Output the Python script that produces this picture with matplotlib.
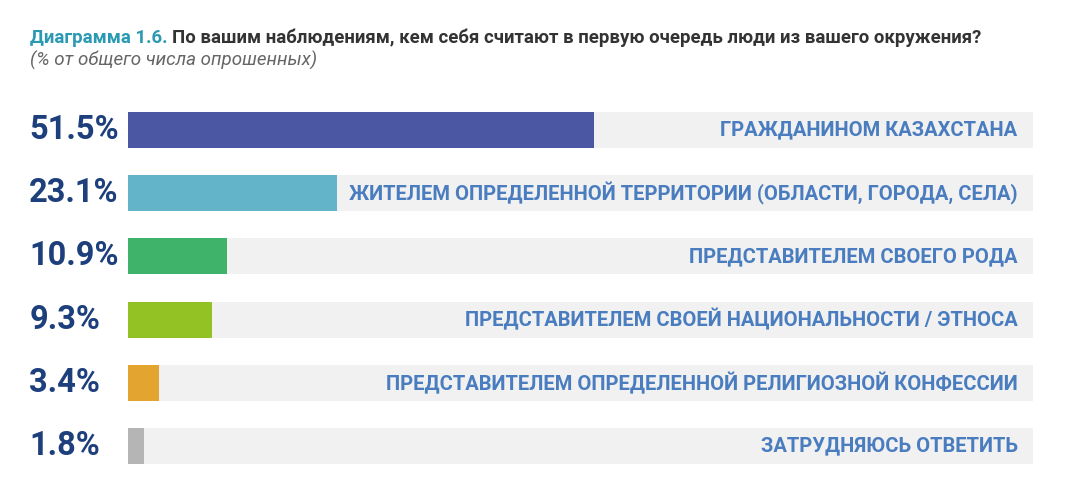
import matplotlib
matplotlib.use("Agg")
import matplotlib.pyplot as plt

categories = ["ГРАЖДАНИНОМ КАЗАХСТАНА",
              "ЖИТЕЛЕМ ОПРЕДЕЛЕННОЙ ТЕРРИТОРИИ (ОБЛАСТИ, ГОРОДА, СЕЛА)",
              "ПРЕДСТАВИТЕЛЕМ СВОЕГО РОДА",
              "ПРЕДСТАВИТЕЛЕМ СВОЕЙ НАЦИОНАЛЬНОСТИ / ЭТНОСА",
              "ПРЕДСТАВИТЕЛЕМ ОПРЕДЕЛЕННОЙ РЕЛИГИОЗНОЙ КОНФЕССИИ",
              "ЗАТРУДНЯЮСЬ ОТВЕТИТЬ"]
values = [51.5, 23.1, 10.9, 9.3, 3.4, 1.8]
colors = ["#4b57a3", "#63b4c9", "#3fb36a", "#93c225", "#e4a530", "#b5b5b5"]

plt.rcParams['font.family'] = ['Roboto', 'DejaVu Sans']
fig = plt.figure(figsize=(10.66, 4.94), dpi=100)
ax = fig.add_axes([128/1066, 1-477.5/494, 905/1066, 379/494])
ys = list(range(len(values)))
ax.barh(ys, [100]*len(values), height=0.57, color="#f1f1f1")
ax.barh(ys, values, height=0.57, color=colors)
for y, v, c in zip(ys, values, categories):
    ax.text(98.3, y, c, ha="right", va="center", fontsize=14.5, fontweight="bold", color="#4a7dbf")
    ax.text(-10.9, y, f"{v}%", ha="left", va="center", fontsize=23.5, fontweight="bold", color="#1d3f7c", clip_on=False)
ax.set_xlim(0, 100)
ax.set_ylim(5.5, -0.5)
ax.axis("off")

t1 = fig.text(30/1066, 1-38/494, "Диаграмма 1.6.", fontsize=13.4, fontweight="bold", color="#2a9ab3", va="center")
fig.canvas.draw()
bb = t1.get_window_extent()
fig.text((bb.x1 + 5)/1066, 1-38/494, "По вашим наблюдениям, кем себя считают в первую очередь люди из вашего окружения?",
         fontsize=13.4, fontweight="bold", color="#333333", va="center")
fig.text(30/1066, 1-60/494, "(% от общего числа опрошенных)", fontsize=13.5, style="italic", color="#666666", va="center")
fig.savefig("out.png", dpi=100)
